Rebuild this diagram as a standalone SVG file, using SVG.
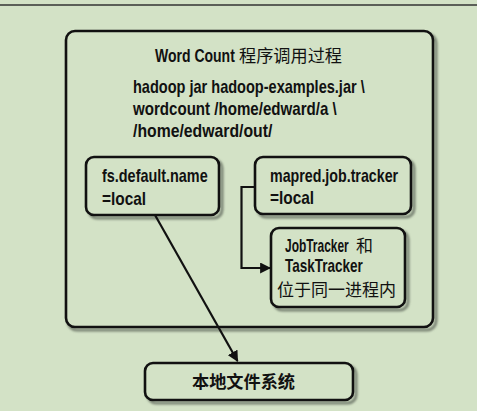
<svg xmlns="http://www.w3.org/2000/svg" width="477" height="411" viewBox="0 0 477 411">
<defs>
<style>
.box{fill:#d3e2c6;stroke:#111;stroke-width:2.6}
.shadow{fill:none;stroke:#7a8474;stroke-width:3;filter:url(#blur)}
.t{font-family:"Liberation Sans",Arial,sans-serif;font-weight:bold;font-size:18px;fill:#111}
.c{font-family:"Noto Sans CJK SC",sans-serif;font-size:17px;fill:#111}
.conn{fill:none;stroke:#111;stroke-width:2.2}
</style>
<filter id="blur" x="-10%" y="-10%" width="120%" height="120%"><feGaussianBlur stdDeviation="1.2"/></filter>
<marker id="arr" viewBox="0 0 10 10" refX="9" refY="5" markerWidth="5" markerHeight="5" orient="auto" markerUnits="strokeWidth"><path d="M0,0 L10,5 L0,10 Z" fill="#111"/></marker>
</defs>
<rect width="477" height="411" fill="#d3e2c6"/>
<line x1="0" y1="5" x2="477" y2="5" stroke="#333" stroke-width="1.5"/>

<g id="outer">
<rect class="shadow" x="68" y="34" width="368" height="296" rx="9"/>
<rect class="box" x="66" y="31" width="367" height="296" rx="9"/>
<text class="t" transform="translate(155,62) scale(0.7,1)" font-size="19" textLength="114" lengthAdjust="spacingAndGlyphs">Word Count</text>
<text class="c" x="239" y="62" font-size="17" textLength="103" lengthAdjust="spacingAndGlyphs">程序调用过程</text>
<text class="t" transform="translate(133,93) scale(0.7,1)" textLength="331" lengthAdjust="spacingAndGlyphs">hadoop jar hadoop-examples.jar \</text>
<text class="t" transform="translate(133,115) scale(0.7,1)" textLength="291" lengthAdjust="spacingAndGlyphs">wordcount /home/edward/a \</text>
<text class="t" transform="translate(133,137) scale(0.7,1)" textLength="199" lengthAdjust="spacingAndGlyphs">/home/edward/out/</text>
</g>

<g id="fs">
<rect class="shadow" x="89" y="160" width="133" height="58" rx="8"/>
<rect class="box" x="86" y="157" width="133" height="58" rx="8"/>
<text class="t" transform="translate(102,182) scale(0.7,1)" textLength="151" lengthAdjust="spacingAndGlyphs">fs.default.name</text>
<text class="t" transform="translate(102,205) scale(0.7,1)" textLength="63" lengthAdjust="spacingAndGlyphs">=local</text>
</g>

<g id="mapred">
<rect class="shadow" x="258" y="160" width="156" height="57" rx="8"/>
<rect class="box" x="255" y="157" width="156" height="57" rx="8"/>
<text class="t" transform="translate(270,182) scale(0.7,1)" textLength="183" lengthAdjust="spacingAndGlyphs">mapred.job.tracker</text>
<text class="t" transform="translate(270,204) scale(0.7,1)" textLength="63" lengthAdjust="spacingAndGlyphs">=local</text>
</g>

<g id="jobtracker">
<rect class="shadow" x="274" y="231" width="134" height="79" rx="8"/>
<rect class="box" x="271" y="228" width="134" height="79" rx="8"/>
<text class="t" transform="translate(285,252) scale(0.7,1)" textLength="91" lengthAdjust="spacingAndGlyphs">JobTracker</text>
<text class="c" x="356" y="252" font-size="18">和</text>
<text class="t" transform="translate(285,272) scale(0.7,1)" textLength="111" lengthAdjust="spacingAndGlyphs">TaskTracker</text>
<text class="c" x="277" y="296" font-size="17.5" textLength="119" lengthAdjust="spacingAndGlyphs">位于同一进程内</text>
</g>

<g id="localfs">
<rect class="shadow" x="148" y="366" width="208" height="37" rx="8"/>
<rect class="box" x="145" y="363" width="208" height="37" rx="8"/>
<text class="c" x="243.5" y="388" font-size="17" font-weight="bold" text-anchor="middle" textLength="103" lengthAdjust="spacingAndGlyphs">本地文件系统</text>
</g>

<g id="connectors">
<path class="conn" d="M255,187 H241.5 V268 H270" marker-end="url(#arr)"/>
<path class="conn" d="M155,215 L237.5,361" marker-end="url(#arr)"/>
</g>
</svg>
